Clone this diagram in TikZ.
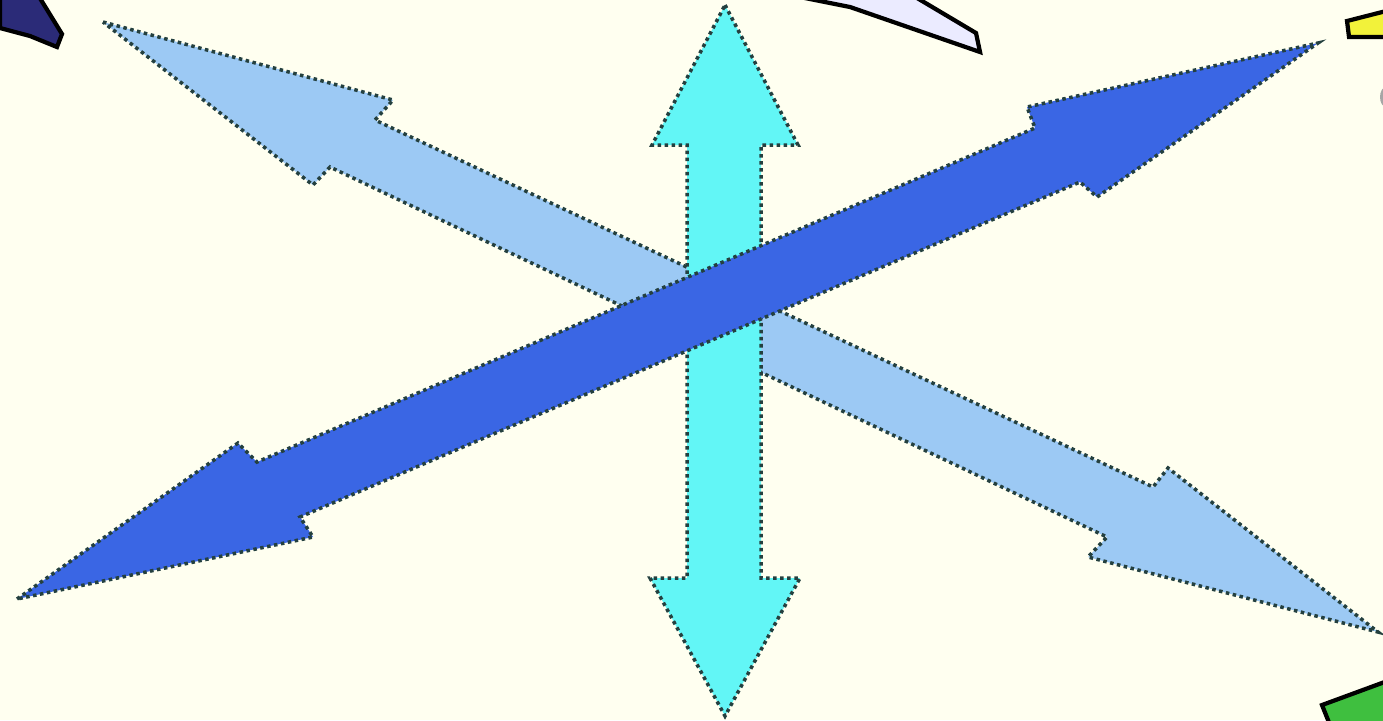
\documentclass[tikz,border=0pt]{standalone}
\usepackage{tikz}
\definecolor{paper}{HTML}{FFFFF0}
\definecolor{skyblue}{HTML}{9CC9F4}
\definecolor{aqua}{HTML}{62F6F6}
\definecolor{royal}{HTML}{3A66E4}
\definecolor{edgegray}{HTML}{24403F}
\definecolor{navyblob}{HTML}{2B2B78}
\definecolor{lemon}{HTML}{F2F23A}
\definecolor{leaf}{HTML}{3FBF3F}
\tikzset{
  blockarrow/.style={
    draw=edgegray, densely dotted, line width=1pt,
    line join=miter
  },
  sidepiece/.style={
    draw=black, line width=1.2pt
  },
}

\begin{document}
\begin{tikzpicture}[x=0.01cm, y=-0.01cm]
  \useasboundingbox (0,0) rectangle (1383,720);
  \fill[paper] (0,0) rectangle (1383,720);

  % cut-off shapes at the edges
  \begin{scope}
    \clip (0,0) rectangle (1383,720);
    \filldraw[sidepiece, fill=navyblob] (0,-5) -- (38,-5) -- (62,34) -- (57,47)
      -- (30,36) -- (0,28) -- cycle;
    \filldraw[sidepiece, fill=white!92!blue] (790,-5) -- (850,7) -- (980,52)
      -- (976,33) -- (912,-5) -- cycle;
    \filldraw[sidepiece, fill=lemon] (1347,21) -- (1390,10) -- (1390,37)
      -- (1349,37) -- cycle;
    \fill[gray!70] (1386,97) ellipse (6 and 10);
    \filldraw[sidepiece, fill=leaf] (1322,705) -- (1390,680) -- (1390,725)
      -- (1330,725) -- cycle;
  \end{scope}

  % light blue double arrow, top left to bottom right
  \filldraw[blockarrow, fill=skyblue]
    (103,22) -- (393,100) -- (375,120) -- (1153,487) -- (1168,468)
    -- (1378,632) -- (1088,557) -- (1107,537) -- (330,167) -- (313,185)
    -- cycle;

  % cyan double arrow, vertical
  \filldraw[blockarrow, fill=aqua]
    (725,5) -- (798,145) -- (761,145) -- (761,578) -- (800,578)
    -- (725,716) -- (650,578) -- (687,578) -- (687,145) -- (652,145)
    -- cycle;

  % dark blue double arrow, bottom left to top right
  \filldraw[blockarrow, fill=royal]
    (17,599) -- (238,443) -- (257,462) -- (1035,128) -- (1027,107)
    -- (1318,43) -- (1097,197) -- (1080,182) -- (300,517) -- (313,537)
    -- cycle;
\end{tikzpicture}
\end{document}
